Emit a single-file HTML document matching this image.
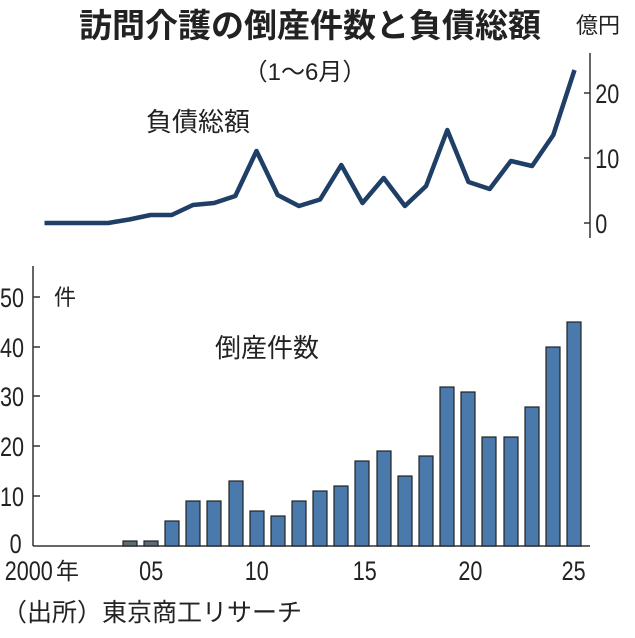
<!DOCTYPE html>
<html><head><meta charset="utf-8"><style>
html,body{margin:0;padding:0;background:#fff}
svg{display:block}
text{font-family:"Liberation Sans","Noto Sans CJK JP",sans-serif;fill:#222}
</style></head><body>
<svg width="635" height="638" viewBox="0 0 635 638">
<text x="310" y="37" font-size="33" font-weight="bold" text-anchor="middle">訪問介護の倒産件数と負債総額</text>
<text x="598" y="33" font-size="22" text-anchor="middle">億円</text>
<text x="305" y="80" font-size="24" text-anchor="middle">（1〜6月）</text>
<text x="198" y="131" font-size="26" text-anchor="middle">負債総額</text>
<line x1="590" y1="53" x2="590" y2="238" stroke="#333" stroke-width="1.5"/>
<g stroke="#333" stroke-width="1.5"><line x1="584" y1="93" x2="590" y2="93"/><line x1="584" y1="158" x2="590" y2="158"/><line x1="584" y1="223" x2="590" y2="223"/></g>
<g font-size="27" transform="scale(0.8,1)"><text x="744" y="103">20</text><text x="744" y="168">10</text><text x="744" y="233">0</text></g>
<polyline fill="none" stroke="#1f3f66" stroke-width="4.5" stroke-linejoin="round" points="44.5,223 65.7,223 86.9,223 108.1,223 129.3,219.5 150.5,215 171.7,215 192.9,205 214.1,203 235.3,196 256.5,151 277.7,195 298.9,206 320.1,199.5 341.3,165 362.5,203 383.7,178 404.9,206 426.1,186 447.3,130 468.5,182 489.7,189 510.9,161 532.1,166 553.3,135 574.5,70"/>
<line x1="33" y1="266" x2="33" y2="546" stroke="#333" stroke-width="1.5"/>
<line x1="33" y1="546" x2="590" y2="546" stroke="#333" stroke-width="1.5"/>
<g stroke="#333" stroke-width="1.5"><line x1="33" y1="297" x2="40" y2="297"/><line x1="33" y1="347" x2="40" y2="347"/><line x1="33" y1="396" x2="40" y2="396"/><line x1="33" y1="446" x2="40" y2="446"/><line x1="33" y1="496" x2="40" y2="496"/></g>
<g font-size="27" transform="scale(0.8,1)"><text x="0" y="307">50</text><text x="0" y="357">40</text><text x="0" y="406">30</text><text x="0" y="456">20</text><text x="0" y="506">10</text><text x="12" y="553">0</text></g>
<text x="54" y="305" font-size="22">件</text>
<text x="267" y="357" font-size="26" text-anchor="middle">倒産件数</text>
<g stroke="#222" stroke-width="1.2" fill="#4a7aab">
<rect x="123" y="541" width="14" height="5" fill="#5d6d78"/>
<rect x="144" y="541" width="14" height="5" fill="#5d6d78"/>
<rect x="165" y="521" width="14" height="25"/>
<rect x="186" y="501" width="14" height="45"/>
<rect x="207" y="501" width="14" height="45"/>
<rect x="229" y="481" width="14" height="65"/>
<rect x="250" y="511" width="14" height="35"/>
<rect x="271" y="516" width="14" height="30"/>
<rect x="292" y="501" width="14" height="45"/>
<rect x="313" y="491" width="14" height="55"/>
<rect x="334" y="486" width="14" height="60"/>
<rect x="355" y="461" width="14" height="85"/>
<rect x="377" y="451" width="14" height="95"/>
<rect x="398" y="476" width="14" height="70"/>
<rect x="419" y="456" width="14" height="90"/>
<rect x="440" y="387" width="14" height="159"/>
<rect x="461" y="392" width="14" height="154"/>
<rect x="482" y="437" width="14" height="109"/>
<rect x="504" y="437" width="14" height="109"/>
<rect x="525" y="407" width="14" height="139"/>
<rect x="546" y="347" width="14" height="199"/>
<rect x="567" y="322" width="14" height="224"/>
</g>
<g font-size="27" transform="scale(0.8,1)"><text x="6" y="580">2000</text></g>
<g font-size="27" text-anchor="middle" transform="scale(0.8,1)"><text x="189" y="580">05</text><text x="321" y="580">10</text><text x="456" y="580">15</text><text x="588" y="580">20</text><text x="717" y="580">25</text></g>
<text x="56" y="579" font-size="23">年</text>
<text x="2" y="621" font-size="25">（出所）東京商工リサーチ</text>
</svg>
</body></html>
